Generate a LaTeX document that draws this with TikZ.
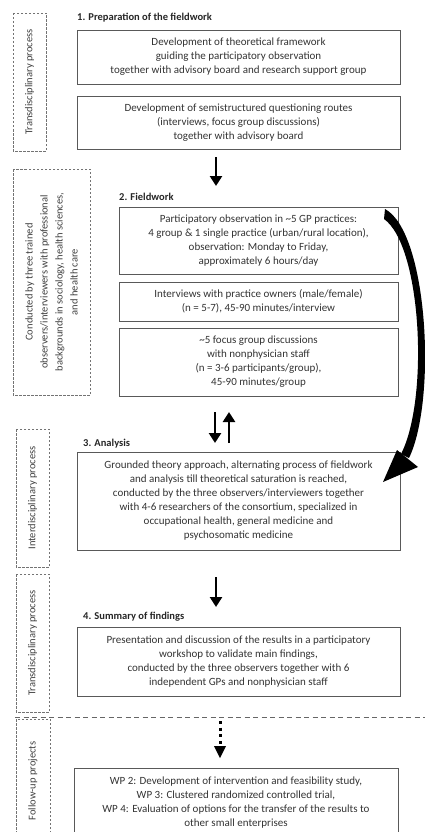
\documentclass[tikz,border=0pt]{standalone}
\usepackage{fontspec}
\setmainfont{Carlito}
\usetikzlibrary{arrows.meta}
\begin{document}
\begin{tikzpicture}[x=1pt,y=-1pt,
  box/.style={draw=black!65, line width=0.8pt, align=center, text=black!80,
    font=\fontsize{11}{14}\selectfont, inner sep=0pt, minimum width=323pt},
  title/.style={anchor=west, inner sep=0pt, font=\bfseries\fontsize{10.5}{12}\selectfont, text=black!85},
  sidebox/.style={draw=black!55, dash pattern=on 2.5pt off 1.5pt, line width=0.7pt, rotate=90,
    align=center, text=black!75, font=\fontsize{10.5}{15}\selectfont, inner sep=0pt},
  bigarrow/.style={line width=2.6pt, -{Triangle[length=10pt,width=12pt]}},
  sepline/.style={draw=black!60, dash pattern=on 5pt off 3.5pt, line width=0.8pt}
]
\useasboundingbox (0,0) rectangle (425,832);

% side boxes
\node[sidebox, minimum width=138pt, minimum height=33pt] (s1) at (29.5,82) {Transdisciplinary process};
\node[sidebox, minimum width=226pt, minimum height=77pt] (s2) at (51.5,282)
  {Conducted by three trained\\observers/interviewers with professional\\backgrounds in sociology, health sciences,\\and health care};
\node[sidebox, minimum width=138pt, minimum height=33pt] (s3) at (32.5,498) {Interdisciplinary process};
\node[sidebox, minimum width=138pt, minimum height=33pt] (s4) at (32.5,643) {Transdisciplinary process};
\node[sidebox, minimum width=124pt, minimum height=34pt] (s5) at (33,781) {Follow-up projects};

% titles
\node[title] (t1) at (77,18) {1. Preparation of the fieldwork};
\node[title] (t2) at (119,197) {2. Fieldwork};
\node[title] (t3) at (83,444) {3. Analysis};
\node[title] (t4) at (83,617) {4. Summary of findings};

% boxes
\node[box, minimum height=54pt] (a) at (238.5,57)
  {Development of theoretical framework\\guiding the participatory observation\\together with advisory board and research support group};
\node[box, minimum height=53pt] (b) at (238.5,122.5)
  {Development of semistructured questioning routes\\(interviews, focus group discussions)\\together with advisory board};
\node[box, minimum width=279pt, minimum height=67pt] (c) at (258.5,240.5)
  {Participatory observation in \textasciitilde5 GP practices:\\4 group \& 1 single practice (urban/rural location),\\observation: Monday to Friday,\\approximately 6 hours/day};
\node[box, minimum width=279pt, minimum height=39pt] (d) at (258.5,301.5)
  {Interviews with practice owners (male/female)\\(n = 5-7), 45-90 minutes/interview};
\node[box, minimum width=279pt, minimum height=68pt] (e) at (258.5,362)
  {\textasciitilde5 focus group discussions\\with nonphysician staff\\(n = 3-6 participants/group),\\45-90 minutes/group};
\node[box, minimum height=98pt] (f) at (238.5,501)
  {Grounded theory approach, alternating process of fieldwork\\and analysis till theoretical saturation is reached,\\conducted by the three observers/interviewers together\\with 4-6 researchers of the consortium, specialized in\\occupational health, general medicine and\\psychosomatic medicine};
\node[box, minimum height=69pt] (g) at (238.5,661.5)
  {Presentation and discussion of the results in a participatory\\workshop to validate main findings,\\conducted by the three observers together with 6\\independent GPs and nonphysician staff};
\node[box, minimum width=324pt, minimum height=70pt] (h) at (236,803)
  {WP 2: Development of intervention and feasibility study,\\WP 3: Clustered randomized controlled trial,\\WP 4: Evaluation of options for the transfer of the results to\\other small enterprises};

% separator
\coordinate (l1) at (15,717);
\coordinate (l2) at (425,717);
\draw[sepline] (l1) -- (l2);

% straight arrows
\coordinate (a1s) at (216,157); \coordinate (a1e) at (216,186);
\draw[bigarrow] (a1s) -- (a1e);
\coordinate (a2s) at (215,412); \coordinate (a2e) at (215,443);
\draw[bigarrow] (a2s) -- (a2e);
\coordinate (a3s) at (229,443); \coordinate (a3e) at (229,412);
\draw[bigarrow] (a3s) -- (a3e);
\coordinate (a4s) at (216,577); \coordinate (a4e) at (216,607);
\draw[bigarrow] (a4s) -- (a4e);

% dotted arrow
\coordinate (a5s) at (220,721); \coordinate (a5m) at (220,745); \coordinate (a5e) at (220,758);
\draw[line width=3pt, dash pattern=on 3pt off 3.6pt] (a5s) -- (a5m);
\fill (214,746) -- (226,746) -- (a5e) -- cycle;

% curved feedback arrow
\fill (385,209) .. controls (428,232) and (437,400) .. (409,458)
      -- (401,454) .. controls (429,400) and (422,246) .. (384,219) -- cycle;
\fill (383,482) -- (397,450) -- (418,467) -- cycle;
\end{tikzpicture}
\end{document}
